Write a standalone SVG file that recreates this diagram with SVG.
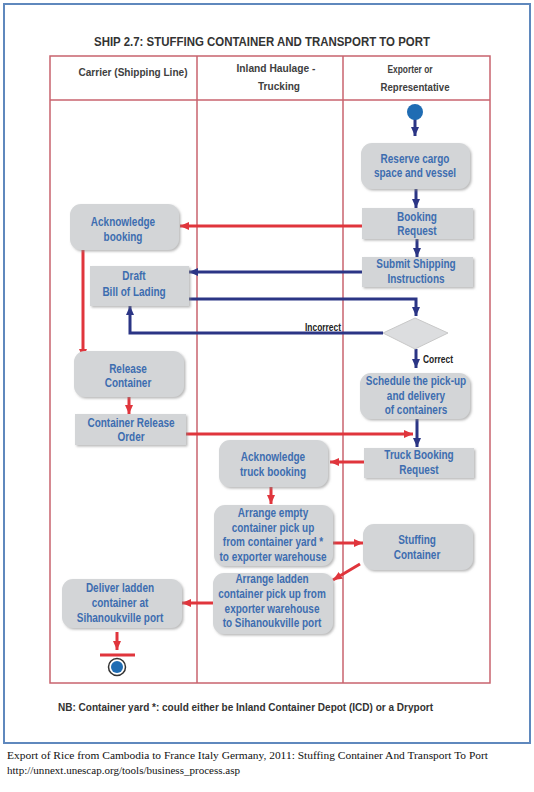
<svg xmlns="http://www.w3.org/2000/svg" width="534" height="792" viewBox="0 0 534 792">
<defs>
<style>
.lane{fill:none;stroke:#c8636e;stroke-width:1.5}
.hdr{font-family:"Liberation Sans",Arial,sans-serif;font-weight:bold;font-size:11.5px;fill:#404040;text-anchor:middle}
.node{fill:#d3d5d7;filter:url(#sh)}
.nt{font-family:"Liberation Sans",Arial,sans-serif;font-weight:bold;font-size:12.5px;fill:#3d6db0;text-anchor:middle}
.red{fill:none;stroke:#e0353c;stroke-width:3}
.blue{fill:none;stroke:#2b3585;stroke-width:3}
.lbl{font-family:"Liberation Sans",Arial,sans-serif;font-weight:bold;font-size:10.5px;fill:#222}
.cap{font-family:"Liberation Serif","Times New Roman",serif;font-size:11px;fill:#111}
</style>
<filter id="sh" x="-10%" y="-10%" width="125%" height="130%">
<feDropShadow dx="1.5" dy="1.5" stdDeviation="1" flood-color="#888" flood-opacity="0.6"/>
</filter>
<marker id="ar" markerUnits="userSpaceOnUse" markerWidth="10" markerHeight="10" refX="9" refY="5" orient="auto"><path d="M0,1 L9,5 L0,9 Z" fill="#e0353c"/></marker>
<marker id="ab" markerUnits="userSpaceOnUse" markerWidth="10" markerHeight="10" refX="9" refY="5" orient="auto"><path d="M0,1 L9,5 L0,9 Z" fill="#2b3585"/></marker>
</defs>
<rect x="0" y="0" width="534" height="792" fill="#ffffff"/>
<rect x="4" y="4" width="526" height="739" fill="none" stroke="#5f88bd" stroke-width="2"/>
<text x="262" y="46" textLength="336" lengthAdjust="spacingAndGlyphs" style="font-family:'Liberation Sans',Arial,sans-serif;font-weight:bold;font-size:13.5px;fill:#333;text-anchor:middle">SHIP 2.7: STUFFING CONTAINER AND TRANSPORT TO PORT</text>
<g id="lanes">
<rect class="lane" x="50" y="56" width="440" height="627"/>
<line class="lane" x1="50" y1="100" x2="490" y2="100"/>
<line class="lane" x1="197" y1="56" x2="197" y2="683"/>
<line class="lane" x1="343" y1="56" x2="343" y2="683"/>
<text class="hdr" x="133" y="76" textLength="109" lengthAdjust="spacingAndGlyphs">Carrier (Shipping Line)</text>
<text class="hdr" x="276" y="72" textLength="79" lengthAdjust="spacingAndGlyphs">Inland Haulage -</text>
<text class="hdr" x="279" y="90" textLength="42" lengthAdjust="spacingAndGlyphs">Trucking</text>
<text class="hdr" x="410" y="73" textLength="45" lengthAdjust="spacingAndGlyphs">Exporter or</text>
<text class="hdr" x="415" y="91" textLength="69" lengthAdjust="spacingAndGlyphs">Representative</text>
</g>
<g id="connectors">
<line class="blue" x1="415" y1="119" x2="415" y2="136" marker-end="url(#ab)"/>
<line class="blue" x1="416" y1="189" x2="416" y2="208" marker-end="url(#ab)"/>
<line class="blue" x1="417" y1="239" x2="417" y2="257" marker-end="url(#ab)"/>
<line class="red" x1="362" y1="226" x2="180" y2="226" marker-end="url(#ar)"/>
<line class="blue" x1="362" y1="272" x2="189" y2="272" marker-end="url(#ab)"/>
<polyline class="blue" points="189,299 416,299 416,316" marker-end="url(#ab)"/>
<polyline class="blue" points="383,333 130,333 130,306" marker-end="url(#ab)"/>
<line class="blue" x1="416" y1="349" x2="416" y2="368" marker-end="url(#ab)"/>
<line class="red" x1="83" y1="250" x2="83" y2="358" marker-end="url(#ar)"/>
<line class="red" x1="129" y1="397" x2="129" y2="414" marker-end="url(#ar)"/>
<line class="red" x1="186" y1="434" x2="413" y2="434" marker-end="url(#ar)"/>
<line class="blue" x1="417" y1="419" x2="417" y2="447" marker-end="url(#ab)"/>
<line class="red" x1="364" y1="462" x2="330" y2="462" marker-end="url(#ar)"/>
<line class="red" x1="271" y1="487" x2="271" y2="504" marker-end="url(#ar)"/>
<line class="red" x1="333" y1="543" x2="363" y2="543" marker-end="url(#ar)"/>
<line class="red" x1="360" y1="564" x2="333" y2="580" marker-end="url(#ar)"/>
<line class="red" x1="213" y1="603" x2="182" y2="603" marker-end="url(#ar)"/>
<line class="red" x1="117" y1="632" x2="117" y2="650" marker-end="url(#ar)"/>
<text class="lbl" x="305" y="331" textLength="36" lengthAdjust="spacingAndGlyphs">Incorrect</text>
<text class="lbl" x="423" y="363" textLength="30" lengthAdjust="spacingAndGlyphs">Correct</text>
</g>
<g id="start"><circle cx="415" cy="112" r="8" fill="#1f6cb3"/></g>
<g id="reserve"><rect class="node" x="361" y="143" width="109" height="46" rx="11"/>
<text class="nt" transform="translate(415 0) scale(0.8 1)"><tspan x="0" y="163">Reserve cargo</tspan><tspan x="0" y="177">space and vessel</tspan></text></g>
<g id="booking"><rect class="node" x="362" y="208" width="111" height="31"/>
<text class="nt" transform="translate(417 0) scale(0.8 1)"><tspan x="0" y="221">Booking</tspan><tspan x="0" y="235">Request</tspan></text></g>
<g id="submit"><rect class="node" x="362" y="257" width="111" height="30"/>
<text class="nt" transform="translate(416 0) scale(0.8 1)"><tspan x="0" y="268">Submit Shipping</tspan><tspan x="0" y="283">Instructions</tspan></text></g>
<g id="ackbooking"><rect class="node" x="70" y="204" width="109" height="46" rx="11"/>
<text class="nt" transform="translate(123 0) scale(0.8 1)"><tspan x="0" y="226">Acknowledge</tspan><tspan x="0" y="241">booking</tspan></text></g>
<g id="draftbl"><rect class="node" x="90" y="266" width="99" height="40"/>
<text class="nt" transform="translate(134 0) scale(0.8 1)"><tspan x="0" y="280">Draft</tspan><tspan x="0" y="296">Bill of Lading</tspan></text></g>
<g id="decision"><polygon points="415,318 448,333 415,349 383,333" fill="#dcdddf" stroke="#c8c8c8" stroke-width="1"/></g>
<g id="schedule"><rect class="node" x="360" y="373" width="110" height="46" rx="11"/>
<text class="nt" transform="translate(416 0) scale(0.8 1)"><tspan x="0" y="385">Schedule the pick-up</tspan><tspan x="0" y="400">and delivery</tspan><tspan x="0" y="414">of containers</tspan></text></g>
<g id="release"><rect class="node" x="74" y="351" width="110" height="46" rx="11"/>
<text class="nt" transform="translate(128 0) scale(0.8 1)"><tspan x="0" y="373">Release</tspan><tspan x="0" y="387">Container</tspan></text></g>
<g id="cro"><rect class="node" x="75" y="414" width="111" height="31"/>
<text class="nt" transform="translate(131 0) scale(0.8 1)"><tspan x="0" y="427">Container Release</tspan><tspan x="0" y="441">Order</tspan></text></g>
<g id="truckbooking"><rect class="node" x="364" y="448" width="110" height="30"/>
<text class="nt" transform="translate(419 0) scale(0.8 1)"><tspan x="0" y="459">Truck Booking</tspan><tspan x="0" y="474">Request</tspan></text></g>
<g id="acktruck"><rect class="node" x="219" y="440" width="109" height="47" rx="11"/>
<text class="nt" transform="translate(273 0) scale(0.8 1)"><tspan x="0" y="461">Acknowledge</tspan><tspan x="0" y="476">truck booking</tspan></text></g>
<g id="arrangeempty"><rect class="node" x="214" y="505" width="119" height="61" rx="11"/>
<text class="nt" transform="translate(273 0) scale(0.8 1)"><tspan x="0" y="517">Arrange empty</tspan><tspan x="0" y="532">container pick up</tspan><tspan x="0" y="546">from container yard *</tspan><tspan x="0" y="561">to exporter warehouse</tspan></text></g>
<g id="stuffing"><rect class="node" x="363" y="524" width="110" height="46" rx="11"/>
<text class="nt" transform="translate(417 0) scale(0.8 1)"><tspan x="0" y="544">Stuffing</tspan><tspan x="0" y="559">Container</tspan></text></g>
<g id="arrangeladden"><rect class="node" x="213" y="573" width="120" height="61" rx="11"/>
<text class="nt" transform="translate(272 0) scale(0.8 1)"><tspan x="0" y="583">Arrange ladden</tspan><tspan x="0" y="598">container pick up from</tspan><tspan x="0" y="613">exporter warehouse</tspan><tspan x="0" y="627">to Sihanoukville port</tspan></text></g>
<g id="deliver"><rect class="node" x="62" y="579" width="120" height="49" rx="11"/>
<text class="nt" transform="translate(120 0) scale(0.8 1)"><tspan x="0" y="592">Deliver ladden</tspan><tspan x="0" y="607">container at</tspan><tspan x="0" y="622">Sihanoukville port</tspan></text></g>
<g id="end">
<line x1="100" y1="655" x2="135" y2="655" stroke="#e0353c" stroke-width="3"/>
<circle cx="117" cy="667" r="8.5" fill="#ffffff" stroke="#333" stroke-width="1.5"/>
<circle cx="117" cy="667" r="6" fill="#1f6cb3"/>
</g>
<text x="58" y="711" textLength="375" lengthAdjust="spacingAndGlyphs" style="font-family:'Liberation Sans',Arial,sans-serif;font-weight:bold;font-size:11px;fill:#333">NB: Container yard *: could either be Inland Container Depot (ICD) or a Dryport</text>
<text class="cap" x="7" y="759" textLength="481" lengthAdjust="spacingAndGlyphs">Export of Rice from Cambodia to France Italy Germany, 2011: Stuffing Container And Transport To Port</text>
<text class="cap" x="7" y="774" textLength="233" lengthAdjust="spacingAndGlyphs">http://unnext.unescap.org/tools/business_process.asp</text>
</svg>
